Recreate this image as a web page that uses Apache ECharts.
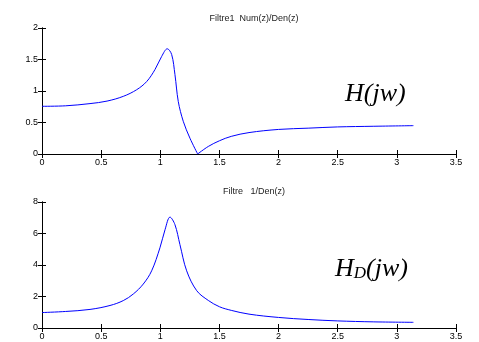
<!DOCTYPE html>
<html>
<head>
<meta charset="utf-8">
<script src="https://cdn.jsdelivr.net/npm/echarts@6/dist/echarts.min.js"></script>
<style>
  html, body { margin: 0; padding: 0; background: #fff; }
  #chart { width: 479px; height: 342px; }
</style>
</head>
<body>
<div id="chart"></div>
<script>
// frequency points (rad/sample)
const wTop = [0, 0.2, 0.406, 0.55, 0.687, 0.8, 0.885, 0.955, 1.012, 1.059, 1.096, 1.124, 1.152, 1.194, 1.251, 1.316, 1.406, 1.5, 1.6, 1.75, 2.0, 2.25, 2.5, 2.8, 3.14];
const hTop = [0.757, 0.765, 0.80, 0.84, 0.915, 1.02, 1.15, 1.34, 1.55, 1.67, 1.58, 1.26, 0.835, 0.52, 0.25, 0.0, 0.12, 0.21, 0.28, 0.34, 0.39, 0.41, 0.43, 0.44, 0.45];

const wBot = [0, 0.2, 0.406, 0.575, 0.687, 0.772, 0.856, 0.927, 0.997, 1.04, 1.082, 1.124, 1.166, 1.223, 1.308, 1.406, 1.5, 1.6, 1.75, 2.0, 2.25, 2.5, 2.8, 3.14];
const hBot = [0.98, 1.05, 1.18, 1.43, 1.74, 2.16, 2.79, 3.63, 5.09, 6.24, 7.04, 6.56, 5.3, 3.63, 2.37, 1.75, 1.35, 1.12, 0.88, 0.67, 0.54, 0.45, 0.39, 0.36];

const titles = ["Filtre1  Num(z)/Den(z)", "Filtre   1/Den(z)"];

const chart = echarts.init(document.getElementById("chart"));

const lbl = { color: "#000", fontSize: 9, fontFamily: "Liberation Sans, Arial, sans-serif", margin: 4 };
const line = { lineStyle: { color: "#000", width: 1 } };
const tick = { inside: true, length: 4, lineStyle: { color: "#000" } };

function xAxes(grid) {
  return [
    { gridIndex: grid, type: "value", min: 0, max: 3.5, interval: 0.5, position: "bottom",
      axisLine: line, axisTick: tick, axisLabel: lbl, splitLine: { show: false } },
    { gridIndex: grid, type: "value", min: 0, max: 3.5, interval: 0.5, position: "top",
      axisLine: line, axisTick: tick, axisLabel: { show: false }, splitLine: { show: false } },
  ];
}
function yAxes(grid, max, interval) {
  return [
    { gridIndex: grid, type: "value", min: 0, max: max, interval: interval, position: "left",
      axisLine: line, axisTick: tick, axisLabel: lbl, splitLine: { show: false } },
    { gridIndex: grid, type: "value", min: 0, max: max, interval: interval, position: "right",
      axisLine: line, axisTick: tick, axisLabel: { show: false }, splitLine: { show: false } },
  ];
}

const curve = { type: "line", smooth: 0.35, showSymbol: false,
  lineStyle: { color: "#0000ff", width: 1 } };

// the zero of Num(z) gives a sharp notch: draw both sides separately
const topPts = wTop.map((w, i) => [w, hTop[i]]);
const notch = hTop.indexOf(Math.min(...hTop));

const option = {
  animation: false,
  backgroundColor: "#fff",
  title: titles.map((t, i) => ({
    text: t,
    left: 249,
    top: i === 0 ? 9 : 182,
    textAlign: "center",
    textStyle: { fontSize: 9, fontWeight: "normal", color: "#222", fontFamily: "Liberation Sans, Arial, sans-serif" },
  })),
  grid: [
    { left: 42, top: 28, width: 414, height: 126 },
    { left: 42, top: 202, width: 414, height: 126 },
  ],
  xAxis: [...xAxes(0), ...xAxes(1)],
  yAxis: [...yAxes(0, 2, 0.5), ...yAxes(1, 8, 2)],
  series: [
    { ...curve, xAxisIndex: 0, yAxisIndex: 0, data: topPts.slice(0, notch + 1) },
    { ...curve, xAxisIndex: 0, yAxisIndex: 0, data: topPts.slice(notch) },
    { ...curve, xAxisIndex: 2, yAxisIndex: 2, data: wBot.map((w, i) => [w, hBot[i]]) },
  ],
  graphic: [
    { type: "text", left: 345, top: 81,
      style: { text: "H(jw)", font: "italic 26px 'Liberation Serif', 'Times New Roman', serif", fill: "#000" } },
    { type: "text", left: 335, top: 256,
      style: {
        text: "{h|H}{d|D}{h|(jw)}",
        rich: {
          h: { font: "italic 26px 'Liberation Serif', 'Times New Roman', serif", fill: "#000" },
          d: { font: "italic 17px 'Liberation Serif', 'Times New Roman', serif", fill: "#000", verticalAlign: "bottom", padding: [10, 0, 0, 0] },
        },
      } },
  ],
};

chart.setOption(option);
</script>
</body>
</html>
